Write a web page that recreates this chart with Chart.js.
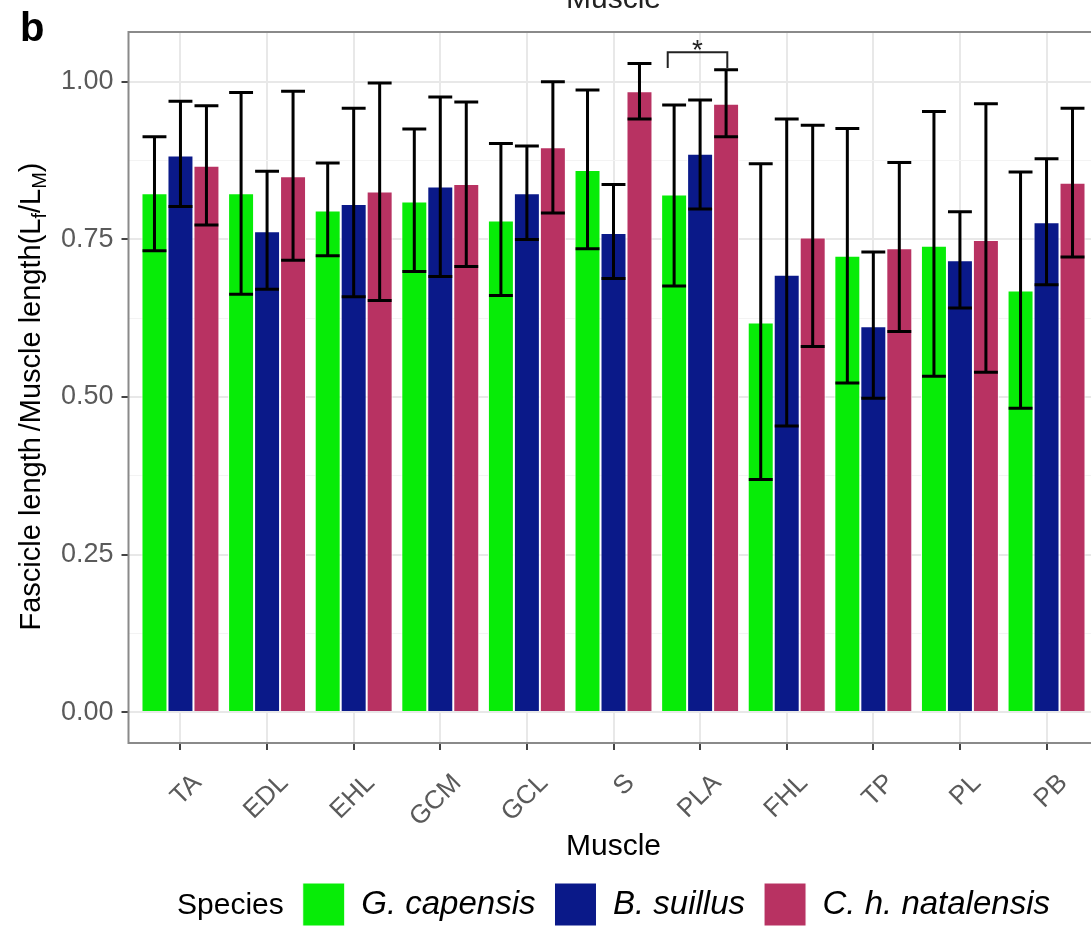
<!DOCTYPE html>
<html>
<head>
<meta charset="utf-8">
<script src="https://cdn.jsdelivr.net/npm/chart.js@4/dist/chart.umd.min.js"></script>
<style>
html,body{margin:0;padding:0;overflow:hidden;background:#ffffff;width:1091px;height:928px}
canvas{display:block}
</style>
</head>
<body>
<canvas id="c" width="1100" height="936"></canvas>
<script>
// ---------- data ----------
const categories = ['TA','EDL','EHL','GCM','GCL','S','PLA','FHL','TP','PL','PB'];
const seriesNames = ['G. capensis','B. suillus','C. h. natalensis'];
const gCapensis    = [0.823,0.823,0.796,0.810,0.780,0.860,0.821,0.618,0.724,0.740,0.669];
const gCapensisLo  = [0.732,0.663,0.724,0.699,0.661,0.735,0.676,0.369,0.522,0.533,0.482];
const gCapensisHi  = [0.913,0.983,0.871,0.925,0.902,0.987,0.963,0.870,0.926,0.953,0.857];
const bSuillus     = [0.883,0.763,0.806,0.834,0.823,0.760,0.886,0.694,0.612,0.717,0.777];
const bSuillusLo   = [0.802,0.671,0.659,0.691,0.750,0.688,0.798,0.454,0.498,0.641,0.678];
const bSuillusHi   = [0.969,0.858,0.958,0.976,0.898,0.837,0.971,0.941,0.730,0.794,0.878];
const cNatalensis   = [0.867,0.850,0.826,0.838,0.896,0.985,0.965,0.753,0.736,0.749,0.840];
const cNatalensisLo = [0.773,0.717,0.653,0.707,0.792,0.941,0.913,0.580,0.604,0.539,0.722];
const cNatalensisHi = [0.962,0.985,0.998,0.968,1.000,1.029,1.019,0.931,0.872,0.965,0.958];
const yTickValues = [0, 0.25, 0.5, 0.75, 1.0];
// significance bracket (PLA: G. capensis vs C. h. natalensis)
const sigX = [5.626, 6.314];
const sigY = [1.022, 1.047];
const sigStarY = 1.062;
const sigLabel = '*';
const legendTitle = 'Species';
const xTitle = 'Muscle';
const panelTag = 'b';

// ---------- style ----------
const FONT = '"Liberation Sans", Arial, Helvetica, sans-serif';
const colors = ['#07ec07', '#0a1989', '#b83262'];
Chart.defaults.font.family = FONT;

const seriesVals = [gCapensis, bSuillus, cNatalensis];
const seriesLo = [gCapensisLo, bSuillusLo, cNatalensisLo];
const seriesHi = [gCapensisHi, bSuillusHi, cNatalensisHi];

const datasets = seriesNames.map((name, k) => ({
  label: name,
  data: seriesVals[k].map((v, i) => ({x: i, y: v})),
  backgroundColor: colors[k],
  borderColor: '#ffffff',
  borderWidth: 1,
  categoryPercentage: 0.9,
  barPercentage: 1.0,
  errLow: seriesLo[k],
  errHigh: seriesHi[k]
}));

const isMajor = v => yTickValues.some(t => Math.abs(t - v) < 1e-6);

// error bars, bracket, panel border
const overlay = {
  id: 'overlay',
  afterDatasetsDraw(chart) {
    const ctx = chart.ctx;
    const ys = chart.scales.y, xs = chart.scales.x;
    const ca = chart.chartArea;
    ctx.save();
    ctx.strokeStyle = '#000';
    ctx.lineWidth = 3;
    chart.data.datasets.forEach((ds, di) => {
      const meta = chart.getDatasetMeta(di);
      meta.data.forEach((bar, i) => {
        const lo = ys.getPixelForValue(ds.errLow[i]);
        const hi = ys.getPixelForValue(ds.errHigh[i]);
        const half = bar.width * 0.46;
        ctx.beginPath();
        ctx.moveTo(bar.x, lo); ctx.lineTo(bar.x, hi);
        ctx.moveTo(bar.x - half, lo); ctx.lineTo(bar.x + half, lo);
        ctx.moveTo(bar.x - half, hi); ctx.lineTo(bar.x + half, hi);
        ctx.stroke();
      });
    });
    // significance bracket
    const x0 = xs.getPixelForValue(sigX[0]), x1 = xs.getPixelForValue(sigX[1]);
    const yt = ys.getPixelForValue(sigY[1]), yb = ys.getPixelForValue(sigY[0]);
    ctx.strokeStyle = '#222';
    ctx.lineWidth = 2;
    ctx.beginPath();
    ctx.moveTo(x0, yb); ctx.lineTo(x0, yt); ctx.lineTo(x1, yt); ctx.lineTo(x1, yb);
    ctx.stroke();
    ctx.fillStyle = '#222';
    ctx.font = '28px ' + FONT;
    ctx.textAlign = 'center';
    ctx.textBaseline = 'alphabetic';
    ctx.fillText(sigLabel, (x0 + x1) / 2, ys.getPixelForValue(sigStarY) + 16);
    // panel border
    ctx.strokeStyle = '#8a8a8a';
    ctx.lineWidth = 2;
    ctx.strokeRect(ca.left, ca.top, ca.right - ca.left, ca.bottom - ca.top);
    ctx.restore();
  }
};

// legend placement + "Species" label
const legendShift = {
  id: 'legendShift',
  afterLayout(chart) {
    const lg = chart.legend;
    if (!lg || !lg.lineWidths) return;
    const ctx = chart.ctx;
    ctx.save();
    ctx.font = '30px ' + FONT;
    const sw = ctx.measureText(legendTitle).width;
    ctx.restore();
    const pad = lg.options.labels.padding;
    const block = lg.lineWidths[0] - pad;
    const gap = 19;
    const ca = chart.chartArea;
    const center = (ca.left + ca.right) / 2;
    const groupLeft = center - (sw + gap + block) / 2;
    const desired = groupLeft + sw + gap;
    const current = (lg.left + pad + lg.right - lg.lineWidths[0]) / 2;
    const dx = desired - current;
    lg.left += dx; lg.right += dx;
    chart.$speciesX = groupLeft;
  },
  afterDraw(chart) {
    const ctx = chart.ctx;
    const lg = chart.legend;
    const ca = chart.chartArea;
    ctx.save();
    // legend title
    const pad = lg.options.labels.padding;
    ctx.fillStyle = '#000';
    ctx.font = '30px ' + FONT;
    ctx.textAlign = 'left';
    ctx.textBaseline = 'middle';
    ctx.fillText(legendTitle, chart.$speciesX, lg.top + pad + 43 / 2 + 1);
    // cut-off title at the top
    ctx.fillStyle = '#222';
    ctx.textAlign = 'center';
    ctx.textBaseline = 'alphabetic';
    ctx.fillText(xTitle, (ca.left + ca.right) / 2, 8);
    // panel tag
    ctx.fillStyle = '#000';
    ctx.font = 'bold 40px ' + FONT;
    ctx.textAlign = 'left';
    ctx.fillText(panelTag, 20, 41);
    // y-axis title with subscripts
    const big = 29, small = 20;
    const segs = [
      {t: 'Fascicle length\u2009/Muscle length(L', s: big, dy: 0},
      {t: 'f', s: small, dy: 6},
      {t: '/L', s: big, dy: 0},
      {t: 'M', s: small, dy: 6},
      {t: ')', s: big, dy: 0}
    ];
    let total = 0;
    segs.forEach(g => { ctx.font = g.s + 'px ' + FONT; g.w = ctx.measureText(g.t).width; total += g.w; });
    ctx.translate(40, (ca.top + ca.bottom) / 2 + 9);
    ctx.rotate(-Math.PI / 2);
    let x = -total / 2;
    ctx.textAlign = 'left';
    segs.forEach(g => { ctx.font = g.s + 'px ' + FONT; ctx.fillText(g.t, x, g.dy); x += g.w; });
    ctx.restore();
  }
};

new Chart(document.getElementById('c'), {
  type: 'bar',
  data: { datasets },
  options: {
    responsive: false,
    animation: false,
    layout: { padding: { top: 32, left: 0, right: 1.5, bottom: 0 } },
    scales: {
      x: {
        type: 'linear',
        offset: false,
        min: -0.6, max: 10.6,
        afterFit: s => { s.height = 121; },
        border: { display: false },
        grid: { offset: false, color: '#e8e8e8', lineWidth: 2, tickLength: 7, tickColor: '#444', tickWidth: 2 },
        ticks: {
          stepSize: 1, includeBounds: false, maxTicksLimit: 20, autoSkip: false,
          maxRotation: 45, minRotation: 45, labelOffset: 17, padding: 18,
          color: '#5a5a5a', font: { size: 26 },
          callback: v => Number.isInteger(v) ? categories[v] : ''
        },
        title: { display: true, text: xTitle, color: '#000', font: { size: 30, lineHeight: 1 }, padding: { top: 0, bottom: 2 } }
      },
      y: {
        type: 'linear',
        min: -0.049, max: 1.079,
        afterFit: s => { s.width = 128.5; },
        border: { display: false },
        grid: {
          color: c => isMajor(c.tick.value) ? '#e8e8e8' : '#f3f3f3',
          lineWidth: c => isMajor(c.tick.value) ? 2 : 1,
          tickLength: 7,
          tickColor: c => isMajor(c.tick.value) ? '#444' : 'rgba(0,0,0,0)',
          tickWidth: 2
        },
        ticks: {
          stepSize: 0.125, includeBounds: false, maxTicksLimit: 20, padding: 8,
          color: '#5a5a5a', font: { size: 27 },
          callback: v => isMajor(v) ? v.toFixed(2) : ''
        }
      }
    },
    plugins: {
      legend: {
        position: 'bottom',
        labels: { boxWidth: 42, boxHeight: 43, padding: 19, color: '#000', font: { size: 33, style: 'italic' } }
      },
      tooltip: { enabled: false }
    }
  },
  plugins: [overlay, legendShift]
});
</script>
</body>
</html>
